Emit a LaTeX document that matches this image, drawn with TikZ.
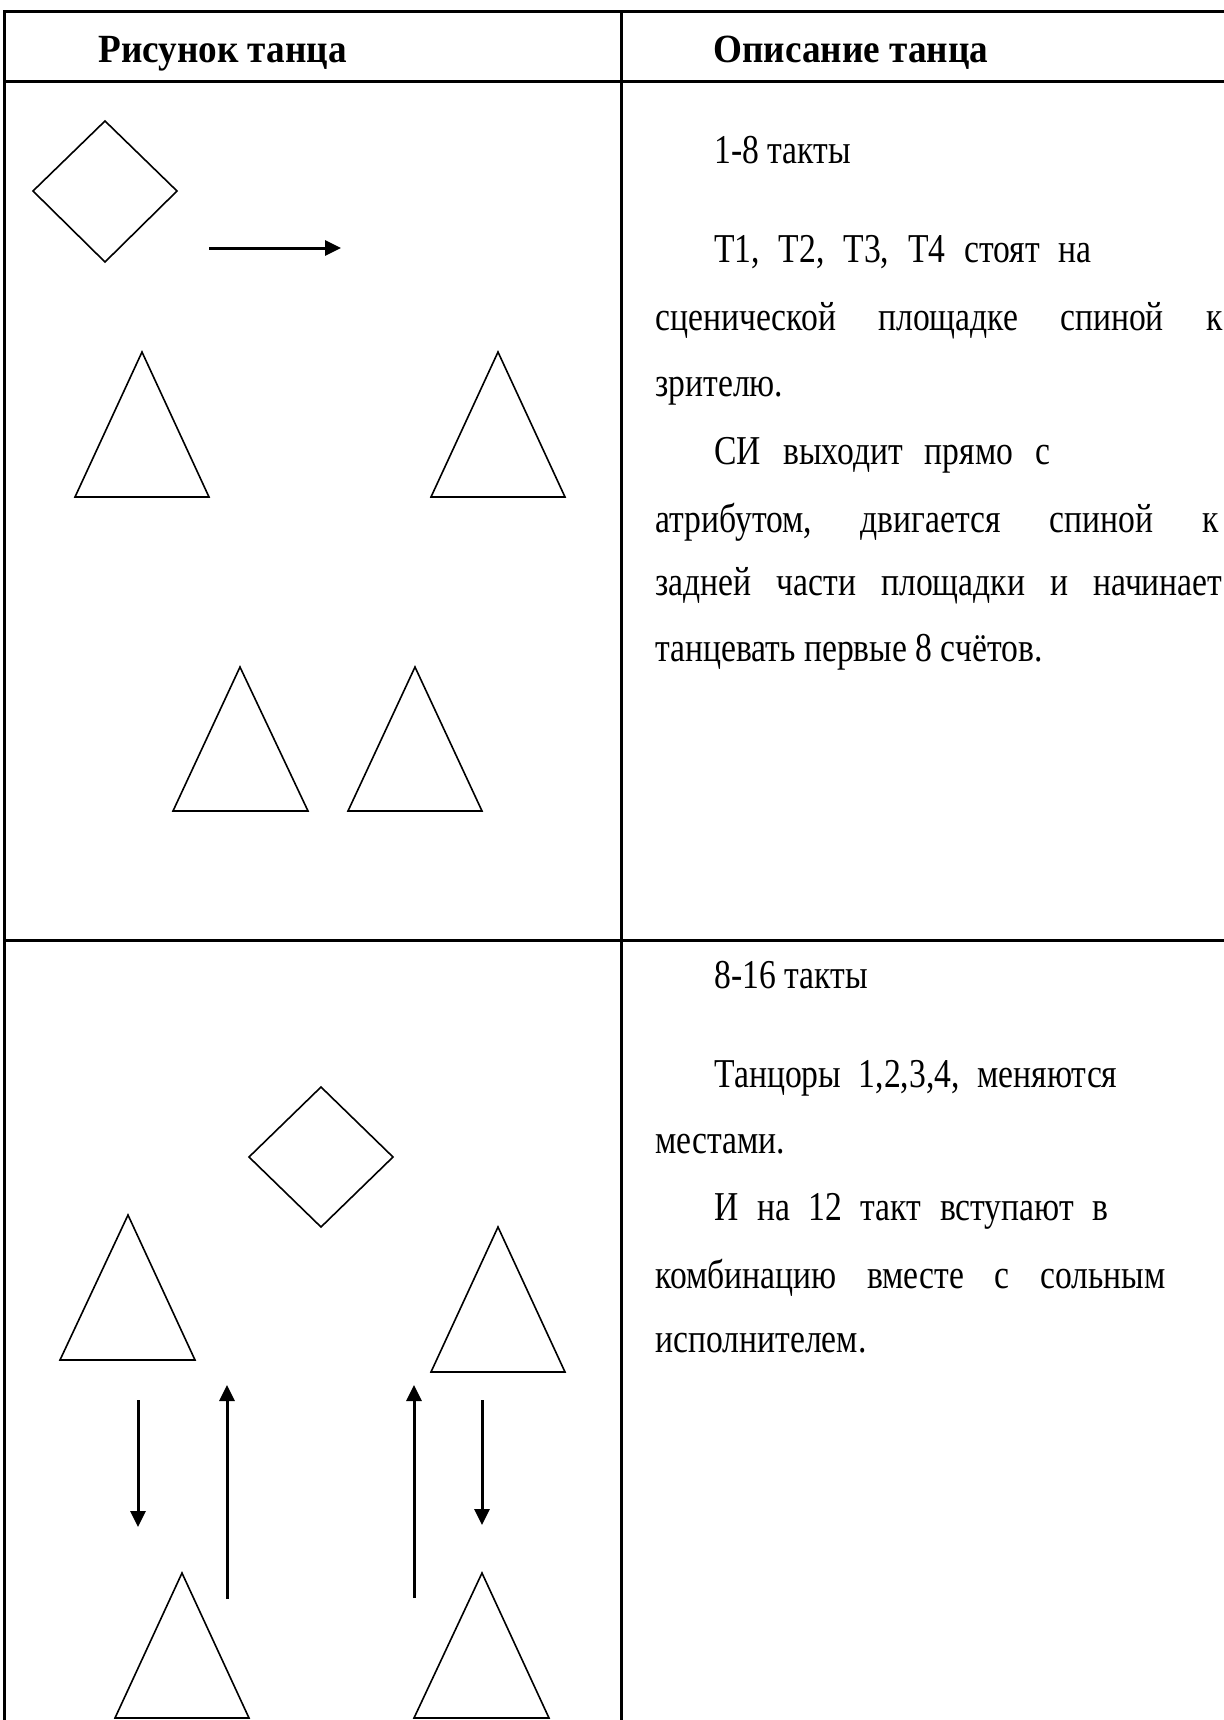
\documentclass[tikz,border=0pt]{standalone}
\usepackage{fontspec}
\setmainfont{Liberation Serif}
\newfontfamily\bodyfont[FakeStretch=0.82]{Liberation Serif}
\newfontfamily\headfont[FakeStretch=0.93]{Liberation Serif Bold}
\usetikzlibrary{arrows.meta}
\tikzset{
  frame/.style={line width=1.5pt, line cap=rect},
  fig/.style={line width=0.8pt, line join=miter},
  move/.style={line width=1.5pt, -{Triangle[length=8pt,width=7.5pt]}},
  head/.style={anchor=base west, inner sep=0pt, font=\headfont\fontsize{20pt}{24pt}\selectfont},
  body/.style={anchor=base west, inner sep=0pt, font=\bodyfont\fontsize{20.5pt}{25pt}\selectfont}
}
\begin{document}
\begin{tikzpicture}[x=0.5pt,y=-0.5pt]
\useasboundingbox (0,0) rectangle (1224,1720);
% table frame
\coordinate (tl) at (4,11);
\coordinate (tr) at (1230,11);
\coordinate (hl) at (4,81);
\coordinate (hr) at (1230,81);
\coordinate (rl) at (4,940);
\coordinate (rr) at (1230,940);
\coordinate (bl) at (4,1730);
\coordinate (ct) at (621,11);
\coordinate (cb) at (621,1730);
\draw[frame] (tl) -- (tr);
\draw[frame] (hl) -- (hr);
\draw[frame] (rl) -- (rr);
\draw[frame] (tl) -- (bl);
\draw[frame] (ct) -- (cb);
% headers
\node[head] (h1) at (98,62) {Рисунок танца};
\node[head] (h2) at (713,62) {Описание танца};
% row 1 figures
\draw[fig] (105,121) -- (177,191) -- (105,262) -- (33,191) -- cycle;
\coordinate (a1s) at (209,248);
\coordinate (a1e) at (341,248);
\draw[move] (a1s) -- (a1e);
\draw[fig] (142,352) -- (209,497) -- (75,497) -- cycle;
\draw[fig] (498,352) -- (565,497) -- (431,497) -- cycle;
\draw[fig] (240,667) -- (308,811) -- (173,811) -- cycle;
\draw[fig] (415,667) -- (482,811) -- (348,811) -- cycle;
% row 1 text
\node[body] (t1) at (714,163) {1-8 такты};
\node[body] (t2) at (714,262) {\hbox to 188.5pt{Т1,\hfill Т2,\hfill Т3,\hfill Т4\hfill стоят\hfill на}};
\node[body] (t3) at (655,330) {\hbox to 283.5pt{сценической\hfill площадке\hfill спиной\hfill к}};
\node[body] (t4) at (655,396) {зрителю.};
\node[body] (t5) at (714,464) {\hbox to 168pt{СИ\hfill выходит\hfill прямо\hfill с}};
\node[body] (t6) at (655,532) {\hbox to 281.5pt{атрибутом,\hfill двигается\hfill спиной\hfill к}};
\node[body] (t7) at (655,595) {\hbox to 283.5pt{задней\hfill части\hfill площадки\hfill и\hfill начинает}};
\node[body] (t8) at (655,661) {танцевать первые 8 счётов.};
% row 2 figures
\draw[fig] (321,1087) -- (393,1157) -- (321,1227) -- (249,1157) -- cycle;
\draw[fig] (128,1215) -- (195,1360) -- (60,1360) -- cycle;
\draw[fig] (498,1227) -- (565,1372) -- (431,1372) -- cycle;
\draw[fig] (182,1573) -- (249,1718) -- (115,1718) -- cycle;
\draw[fig] (482,1573) -- (549,1718) -- (414,1718) -- cycle;
\coordinate (d1s) at (138,1400); \coordinate (d1e) at (138,1527);
\coordinate (u1s) at (227,1599); \coordinate (u1e) at (227,1385);
\coordinate (u2s) at (414,1598); \coordinate (u2e) at (414,1385);
\coordinate (d2s) at (482,1400); \coordinate (d2e) at (482,1525);
\draw[move] (d1s) -- (d1e);
\draw[move] (u1s) -- (u1e);
\draw[move] (u2s) -- (u2e);
\draw[move] (d2s) -- (d2e);
% row 2 text
\node[body] (s1) at (714,988) {8-16 такты};
\node[body] (s2) at (714,1087) {\hbox to 201.5pt{Танцоры\hfill 1,2,3,4,\hfill меняются}};
\node[body] (s3) at (655,1153) {местами.};
\node[body] (s4) at (714,1220) {\hbox to 197pt{И\hfill на\hfill 12\hfill такт\hfill вступают\hfill в}};
\node[body] (s5) at (655,1288) {\hbox to 255pt{комбинацию\hfill вместе\hfill с\hfill сольным}};
\node[body] (s6) at (655,1352) {исполнителем.};
\end{tikzpicture}
\end{document}
